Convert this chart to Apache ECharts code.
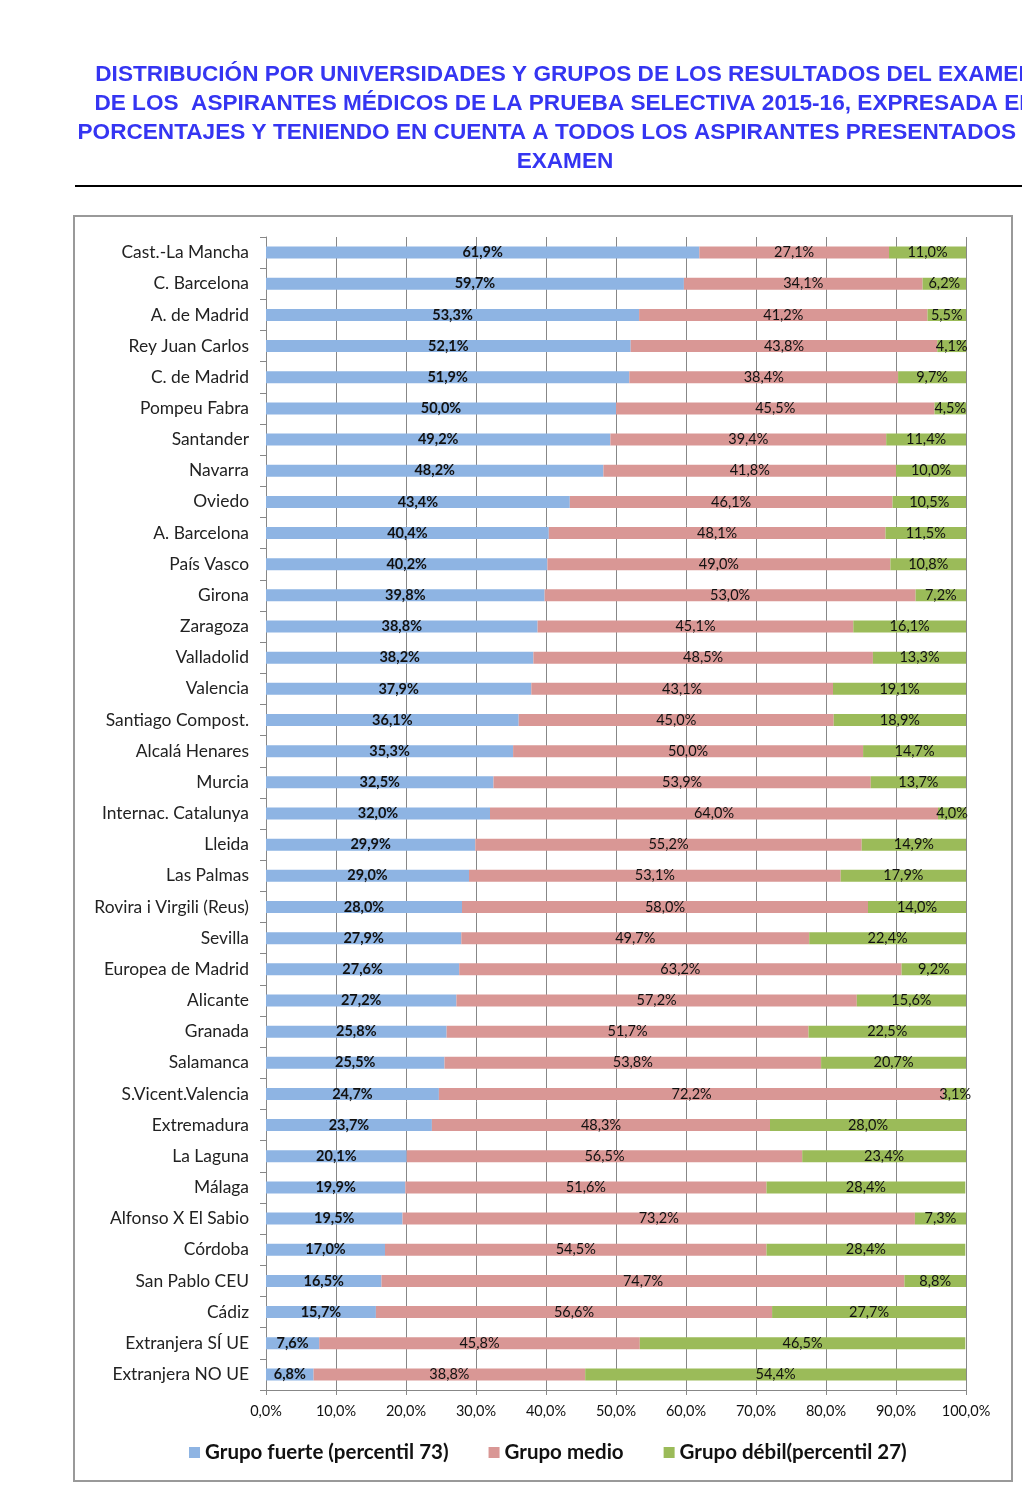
<!DOCTYPE html>
<html>
<head>
<meta charset="utf-8">
<script src="https://cdn.jsdelivr.net/npm/echarts@6/dist/echarts.min.js"></script>
<style>
html,body{margin:0;padding:0;background:#fff;overflow:hidden;}
#chart{width:1022px;height:1485px;}
</style>
</head>
<body>
<div id="chart"></div>
<script>
const titleLines = [
  'DISTRIBUCIÓN POR UNIVERSIDADES Y GRUPOS DE LOS RESULTADOS DEL EXAMEN',
  'DE LOS  ASPIRANTES MÉDICOS DE LA PRUEBA SELECTIVA 2015-16, EXPRESADA EN',
  'PORCENTAJES Y TENIENDO EN CUENTA A TODOS LOS ASPIRANTES PRESENTADOS AL',
  'EXAMEN'
];
const categories = ['Cast.-La Mancha','C. Barcelona','A. de Madrid','Rey Juan Carlos','C. de Madrid','Pompeu Fabra','Santander','Navarra','Oviedo','A. Barcelona','País Vasco','Girona','Zaragoza','Valladolid','Valencia','Santiago Compost.','Alcalá Henares','Murcia','Internac. Catalunya','Lleida','Las Palmas','Rovira i Virgili (Reus)','Sevilla','Europea de Madrid','Alicante','Granada','Salamanca','S.Vicent.Valencia','Extremadura','La Laguna','Málaga','Alfonso X El Sabio','Córdoba','San Pablo CEU','Cádiz','Extranjera SÍ UE','Extranjera NO UE'];
const seriesNames = ['Grupo fuerte (percentil 73)','Grupo medio','Grupo débil(percentil 27)'];
const fuerte = [61.9,59.7,53.3,52.1,51.9,50.0,49.2,48.2,43.4,40.4,40.2,39.8,38.8,38.2,37.9,36.1,35.3,32.5,32.0,29.9,29.0,28.0,27.9,27.6,27.2,25.8,25.5,24.7,23.7,20.1,19.9,19.5,17.0,16.5,15.7,7.6,6.8];
const medio = [27.1,34.1,41.2,43.8,38.4,45.5,39.4,41.8,46.1,48.1,49.0,53.0,45.1,48.5,43.1,45.0,50.0,53.9,64.0,55.2,53.1,58.0,49.7,63.2,57.2,51.7,53.8,72.2,48.3,56.5,51.6,73.2,54.5,74.7,56.6,45.8,38.8];
const debil = [11.0,6.2,5.5,4.1,9.7,4.5,11.4,10.0,10.5,11.5,10.8,7.2,16.1,13.3,19.1,18.9,14.7,13.7,4.0,14.9,17.9,14.0,22.4,9.2,15.6,22.5,20.7,3.1,28.0,23.4,28.4,7.3,28.4,8.8,27.7,46.5,54.4];
const xTicks = [0,10,20,30,40,50,60,70,80,90,100];

const fmt = v => v.toFixed(1).replace('.', ',') + '%';
const colors = ['#8EB4E3','#D99795','#9BBB59'];
const gridColor = '#878787';
const font = 'Lato, "Open Sans", sans-serif';

const chart = echarts.init(document.getElementById('chart'), null, {renderer:'canvas'});

const titleGraphics = titleLines.map((t,i) => ({
  type:'text', x:565, y:75 + i*29,
  style:{text:t, fill:'#3535F2', font:'bold 22.6px "Liberation Sans", Arial, sans-serif', textAlign:'center', textVerticalAlign:'middle'}
}));

function mkSeries(name, data, idx){
  return {
    name, type:'bar', stack:'total', data, barWidth:12,
    itemStyle:{color:colors[idx]},
    label:{show:true, position:'inside', formatter:p=>fmt(p.value), color:'#111',
      fontFamily:font, fontSize:14.5, fontWeight: idx===0?'bold':'normal'},
    emphasis:{disabled:true}
  };
}

chart.setOption({
  animation:false,
  backgroundColor:'#fff',
  graphic:[
    ...titleGraphics,
    {type:'line', shape:{x1:75,y1:186,x2:1022,y2:186}, style:{stroke:'#000', lineWidth:2}},
    {type:'rect', shape:{x:74,y:216,width:938,height:1265}, style:{fill:'none', stroke:'#999', lineWidth:2}, z:-1}
  ],
  legend:{
    data:seriesNames, top:1437, left:184, icon:'rect', itemWidth:11, itemHeight:11, itemGap:40,
    textStyle:{fontFamily:font, fontSize:20.5, fontWeight:'bold', color:'#111'}
  },
  grid:{left:266, right:56, top:237, bottom:95, containLabel:false},
  xAxis:{
    type:'value', min:0, max:100, interval:10,
    axisLine:{show:true, lineStyle:{color:gridColor}},
    axisTick:{show:true, length:5, lineStyle:{color:gridColor}},
    splitLine:{show:true, lineStyle:{color:gridColor, width:1}},
    axisLabel:{formatter:v=>fmt(v), fontFamily:font, fontSize:14.5, color:'#111', margin:14,
      customValues:xTicks}
  },
  yAxis:{
    type:'category', data:categories, inverse:true,
    axisLine:{show:true, lineStyle:{color:gridColor}},
    axisTick:{show:true, length:6, lineStyle:{color:gridColor}},
    axisLabel:{fontFamily:font, fontSize:17.4, color:'#222', margin:17}
  },
  series:[mkSeries(seriesNames[0], fuerte, 0), mkSeries(seriesNames[1], medio, 1), mkSeries(seriesNames[2], debil, 2)]
});
</script>
</body>
</html>
